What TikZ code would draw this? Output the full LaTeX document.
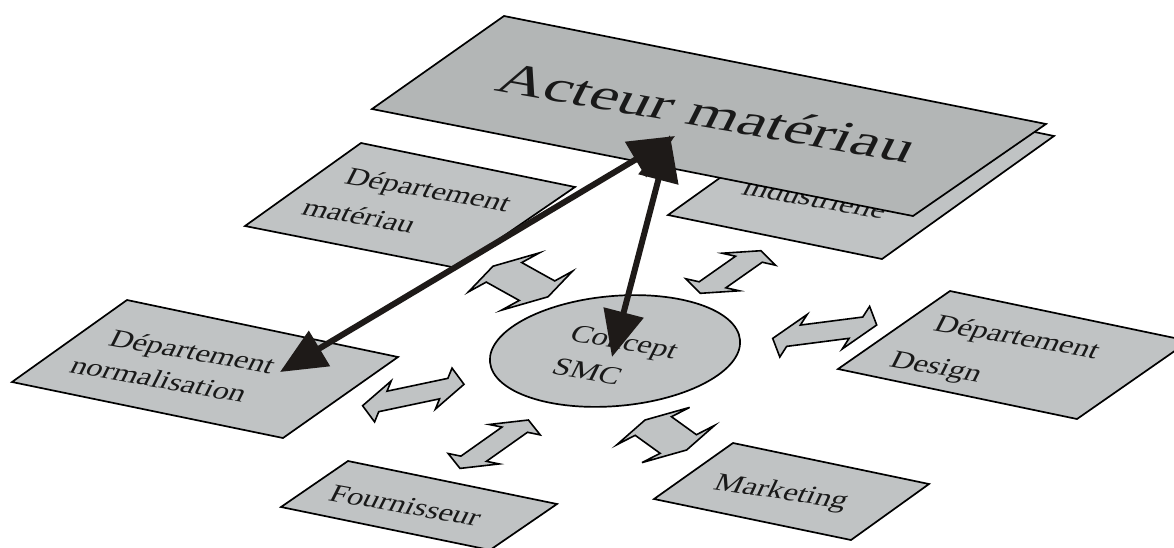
\documentclass[tikz,border=0pt]{standalone}
\usepackage{fontspec}
\setmainfont{Liberation Serif}
\newfontfamily\planefont[FakeSlant=0.3, FakeStretch=1.25]{Liberation Serif}
\newfontfamily\bigplanefont[FakeSlant=0.3, FakeStretch=1.45]{Liberation Serif}
\usetikzlibrary{calc,arrows.meta,shapes.geometric}
\definecolor{boxgray}{RGB}{192,195,196}
\definecolor{actgray}{RGB}{179,182,182}
\definecolor{arrowblack}{RGB}{30,26,24}
\tikzset{
  plane/.style={draw=black, line width=1.7pt, fill=boxgray, line join=miter},
  barrow/.style={draw=black, line width=1.6pt, fill=boxgray, line join=miter},
  ptxt/.style={anchor=base west, inner sep=0pt, rotate=-10,
               font=\planefont\fontsize{25.6}{30}\selectfont, text=black!90},
  bigtxt/.style={anchor=base west, inner sep=0pt, rotate=-10,
               font=\bigplanefont\fontsize{44.8}{50}\selectfont, text=black!90},
  blackarrow/.style={draw=arrowblack, line width=6pt,
               {Triangle[length=46pt,width=40pt]}-{Triangle[length=46pt,width=40pt]}}
}
\newcommand{\blockarrow}[3]{%
  \draw[barrow] ($(#1)+(#2)$) -- ($(#1)+0.6*(#2)+(#3)$) -- ($(#1)+0.6*(#2)+0.5*(#3)$)
    -- ($(#1)-0.6*(#2)+0.5*(#3)$) -- ($(#1)-0.6*(#2)+(#3)$) -- ($(#1)-(#2)$)
    -- ($(#1)-0.6*(#2)-(#3)$) -- ($(#1)-0.6*(#2)-0.5*(#3)$)
    -- ($(#1)+0.6*(#2)-0.5*(#3)$) -- ($(#1)+0.6*(#2)-(#3)$) -- cycle;}
\begin{document}
\begin{tikzpicture}[x=1pt,y=-1pt]
\useasboundingbox (0,0) rectangle (1174,547);
\clip (0,0) rectangle (1174,547);

% hidden box (industrielle)
\coordinate (in1) at (840,92);
\coordinate (in2) at (1054,136);
\coordinate (in3) at (882,259);
\coordinate (in4) at (668,215);
\draw[plane] (in1) -- (in2) -- (in3) -- (in4) -- cycle;
\node[ptxt] (indt) at (740,194) {industrielle};

% Acteur materiau
\coordinate (ac1) at (504,16);
\coordinate (ac2) at (1046,124);
\coordinate (ac3) at (913,216);
\coordinate (ac4) at (372,109);
\draw[plane, fill=actgray] (ac1) -- (ac2) -- (ac3) -- (ac4) -- cycle;
\node[bigtxt] (act) at (493,90) {Acteur matériau};

% Departement materiau
\coordinate (dm1) at (361,143);
\coordinate (dm2) at (575,187);
\coordinate (dm3) at (457,268);
\coordinate (dm4) at (245,226);
\draw[plane] (dm1) -- (dm2) -- (dm3) -- (dm4) -- cycle;
\node[ptxt] (dmt1) at (343,183) {Département};
\node[ptxt] (dmt2) at (300,214) {matériau};

% Departement normalisation
\coordinate (dn1) at (127,300);
\coordinate (dn2) at (398,357);
\coordinate (dn3) at (283,438);
\coordinate (dn4) at (12,382);
\draw[plane] (dn1) -- (dn2) -- (dn3) -- (dn4) -- cycle;
\node[ptxt] (dnt1) at (107,345) {Département};
\node[ptxt] (dnt2) at (68,372) {normalisation};

% Departement Design
\coordinate (dd1) at (950,291);
\coordinate (dd2) at (1189,341);
\coordinate (dd3) at (1077,419);
\coordinate (dd4) at (838,369);
\draw[plane] (dd1) -- (dd2) -- (dd3) -- (dd4) -- cycle;
\node[ptxt] (ddt1) at (932,330) {Département};
\node[ptxt] (ddt2) at (888,366) {Design};

% Fournisseur
\coordinate (fo1) at (348,461);
\coordinate (fo2) at (557,504);
\coordinate (fo3) at (490,550);
\coordinate (fo4) at (281,507);
\draw[plane] (fo1) -- (fo2) -- (fo3) -- (fo4) -- cycle;
\node[ptxt] (fot) at (327,500) {Fournisseur};

% Marketing
\coordinate (mk1) at (733,443);
\coordinate (mk2) at (929,484);
\coordinate (mk3) at (851,540);
\coordinate (mk4) at (654,499);
\draw[plane] (mk1) -- (mk2) -- (mk3) -- (mk4) -- cycle;
\node[ptxt, rotate=1.5] (mkt) at (712,489) {Marketing};

% Concept SMC
\node[draw=black, line width=1.7pt, fill=boxgray, ellipse, inner sep=0pt,
      minimum width=251pt, minimum height=110pt, rotate=5] (smc) at (615,351) {};
\node[ptxt] (smct1) at (568,340) {Concept};
\node[ptxt] (smct2) at (550,373) {SMC};

% block double arrows
\blockarrow{520.5,281.5}{27.5,15.3}{35.5,-19.5}
\blockarrow{730.7,272}{30.3,-21.3}{26.7,6}
\blockarrow{824.7,331.7}{52,-6.7}{13.7,-21.3}
\blockarrow{413.3,395}{50.7,-10.7}{8.3,-20.5}
\blockarrow{494.2,444.2}{34.2,-24.2}{25.5,5.2}
\blockarrow{665.8,435}{20.8,15}{36.3,-18.6}

% black double arrows
\coordinate (k1a) at (280,372);
\coordinate (k1b) at (675,136);
\coordinate (k2a) at (612,357);
\coordinate (k2b) at (670,135);
\draw[blackarrow] (k1a) -- (k1b);
\draw[blackarrow] (k2a) -- (k2b);
\end{tikzpicture}
\end{document}
